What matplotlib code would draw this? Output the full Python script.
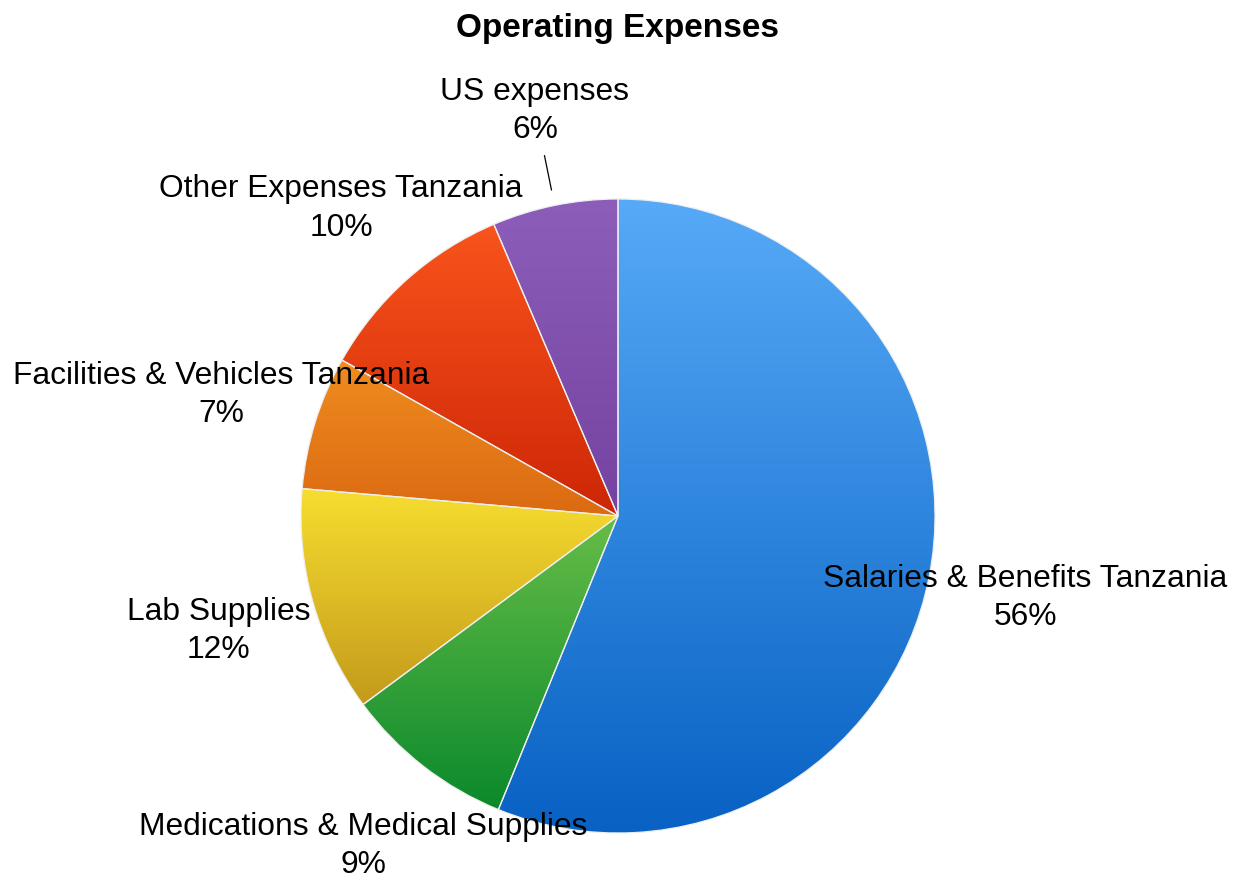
import numpy as np
import matplotlib.pyplot as plt
from matplotlib.colors import to_rgb

labels = ['Salaries & Benefits Tanzania', 'Medications & Medical Supplies',
          'Lab Supplies', 'Facilities & Vehicles Tanzania',
          'Other Expenses Tanzania', 'US expenses']
values = [56.1, 8.7, 11.5, 6.8, 10.4, 6.4]
# gradient colours (top, bottom) for each slice
top_cols = ['#56aaf7', '#66bd47', '#f7de30', '#ef8c1f', '#f9541c', '#8c5eba']
bot_cols = ['#0861c3', '#0b892c', '#c49a1b', '#db6a12', '#cd2607', '#7542a0']

plt.rcParams['font.family'] = ['Liberation Sans', 'DejaVu Sans']

fig = plt.figure(figsize=(12.4, 8.8), dpi=100)
ax = fig.add_axes([0, 0, 1, 1])

cx, cy, R = 618, 364, 317
wedges, _ = ax.pie(values, startangle=90, counterclock=False,
                   center=(cx, cy), radius=R,
                   wedgeprops=dict(linewidth=0.9, edgecolor='#eeeeee'))

total = sum(values)
for w, lab, v, c0, c1 in zip(wedges, labels, values, top_cols, bot_cols):
    verts = w.get_path().vertices
    verts = w.get_patch_transform().transform(verts)
    x0, x1 = verts[:, 0].min(), verts[:, 0].max()
    y0, y1 = verts[:, 1].min(), verts[:, 1].max()
    t = np.linspace(0, 1, 200)[:, None]
    grad = (1 - t) * np.array(to_rgb(c0)) + t * np.array(to_rgb(c1))
    grad = grad[:, None, :]
    im = ax.imshow(grad, extent=(x0, x1, y0, y1), origin='upper',
                   aspect='auto', zorder=1)
    im.set_clip_path(w)
    w.set_facecolor('none')
    w.set_zorder(2)

    mid = np.deg2rad((w.theta1 + w.theta2) / 2)
    tx = cx + 1.31 * R * np.cos(mid)
    ty = cy + 1.31 * R * np.sin(mid) - 2
    ax.text(tx, ty, '%s\n%d%%' % (lab, round(v / total * 100)),
            ha='center', va='center', fontsize=22.9, linespacing=1.36,
            zorder=5)
    if lab == 'US expenses':
        ax.plot([cx + 1.05 * R * np.cos(mid), cx + 1.16 * R * np.cos(mid)],
                [cy + 1.05 * R * np.sin(mid), cy + 1.16 * R * np.sin(mid)],
                color='black', lw=0.9, zorder=5)

ax.set_xlim(0, 1240)
ax.set_ylim(0, 880)
ax.set_aspect('equal')
ax.axis('off')

fig.text(0.498, 1 - 28 / 880, 'Operating Expenses', ha='center', va='center',
         fontsize=24, fontweight='bold')

fig.savefig('out.png', dpi=100)
